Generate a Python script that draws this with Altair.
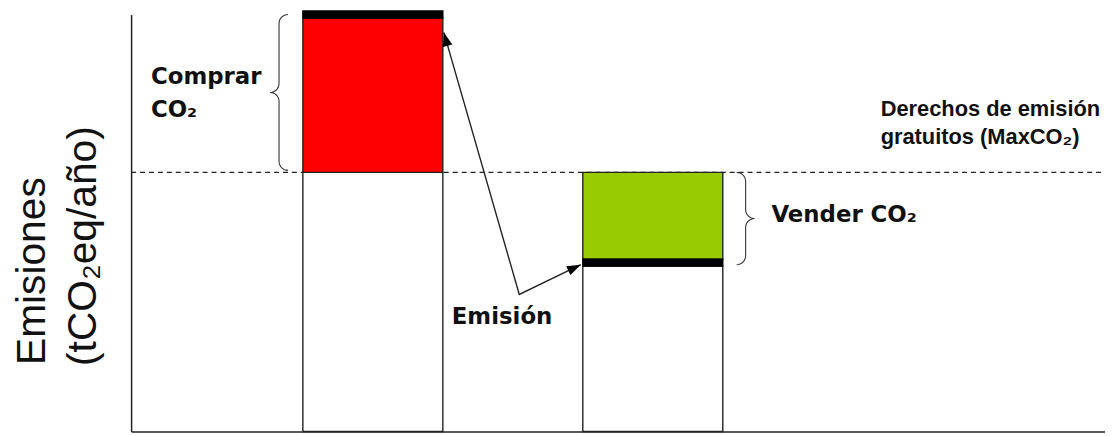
import math
import numpy as np
import pandas as pd
import altair as alt

# ---- schematic units (one unit = one pixel of the plot area) ----
X_MAX = 981
Y_MAX = 420

bar_names = ["Comprar", "Vender"]
bar_left = [173, 455]
bar_right = [314, 596]
emission = [420, 170]          # actual emission level of each installation
band = 7                       # thickness of the emission marker
max_co2 = 261                  # free allowance (MaxCO2)
excess_colors = ["#FF0000", "#99CC00"]

# braces: spine x, lower and upper limits, half width, side (+1 tips right, -1 tips left)
brace_x = [149, 619]
brace_lo = [263, 168]
brace_hi = [420, 261]
brace_w = [9, 9]
brace_side = [1, -1]

# arrow polyline (tip at top bar, vertex, tip at lower bar)
arrow_x = [315, 391, 453]
arrow_y = [402, 138, 168]

# text labels
ann_text = ["Comprar", "CO\u2082", "Emisi\u00f3n", "Vender CO\u2082"]
ann_x = [20, 20, 323, 645]
ann_y = [350, 317, 108, 211]

ref_text = ["Derechos de emisi\u00f3n", "gratuitos (MaxCO\u2082)"]
ref_x = [755, 755]
ref_y = [318, 290]

ytitle_text = ["Emisiones", "(tCO\u2082eq/a\u00f1o)"]
ytitle_x = [-87, -35]
ytitle_y = [67, 66]

# ---- build tables ----
rect_rows = []
for i in range(len(bar_names)):
    e = emission[i]
    lo_e, hi_e = e - band / 2, e + band / 2
    rect_rows.append(dict(x=bar_left[i], x2=bar_right[i], y=0, y2=min(max_co2, lo_e),
                          fill="#FFFFFF", stroke="#222222"))
    if e > max_co2:
        rect_rows.append(dict(x=bar_left[i], x2=bar_right[i], y=max_co2, y2=lo_e,
                              fill=excess_colors[i], stroke="#222222"))
    else:
        rect_rows.append(dict(x=bar_left[i], x2=bar_right[i], y=hi_e, y2=max_co2,
                              fill=excess_colors[i], stroke="#222222"))
    rect_rows.append(dict(x=bar_left[i], x2=bar_right[i], y=lo_e, y2=hi_e,
                          fill="#000000", stroke="#000000"))
rects = pd.DataFrame(rect_rows)


def brace_points(x, lo, hi, w, s):
    r = w
    mid = (lo + hi) / 2
    pts = []
    n = 8
    for t in np.linspace(90, 180, n):
        a = math.radians(t)
        pts.append((w + r * math.cos(a), hi - r + r * math.sin(a)))
    for t in np.linspace(0, -90, n):
        a = math.radians(t)
        pts.append((-w + r * math.cos(a), mid + r + r * math.sin(a)))
    for t in np.linspace(90, 0, n):
        a = math.radians(t)
        pts.append((-w + r * math.cos(a), mid - r + r * math.sin(a)))
    for t in np.linspace(180, 270, n):
        a = math.radians(t)
        pts.append((w + r * math.cos(a), lo + r + r * math.sin(a)))
    return [(x + s * dx, y) for dx, y in pts]


brace_rows = []
for b in range(len(brace_x)):
    for k, (px, py) in enumerate(brace_points(brace_x[b], brace_lo[b], brace_hi[b],
                                              brace_w[b], brace_side[b])):
        brace_rows.append(dict(id=b, k=k, x=px, y=py))
braces = pd.DataFrame(brace_rows)

arrow = pd.DataFrame(dict(k=list(range(3)), x=arrow_x, y=arrow_y))

head_len = 14
heads = []
for tip, base in [(0, 1), (2, 1)]:
    dx = arrow_x[tip] - arrow_x[base]
    dy = arrow_y[tip] - arrow_y[base]
    L = math.hypot(dx, dy)
    ang = math.degrees(math.atan2(dx, dy)) % 360
    heads.append(dict(x=arrow_x[tip] - dx / L * head_len / 2,
                      y=arrow_y[tip] - dy / L * head_len / 2, angle=ang))
heads = pd.DataFrame(heads)

ann = pd.DataFrame(dict(text=ann_text, x=ann_x, y=ann_y))
refl = pd.DataFrame(dict(text=ref_text, x=ref_x, y=ref_y))
ytl = pd.DataFrame(dict(text=ytitle_text, x=ytitle_x, y=ytitle_y))
maxline = pd.DataFrame(dict(y=[max_co2], x=[0], x2=[X_MAX]))

# ---- encodings ----
xs = alt.Scale(domain=[0, X_MAX], nice=False, zero=False)
ys = alt.Scale(domain=[0, Y_MAX], nice=False, zero=False)
ax = alt.Axis(ticks=False, labels=False, grid=False, title="", domainColor="#222222",
              domainWidth=1.5)


def X(f="x"):
    return alt.X(f"{f}:Q", scale=xs, axis=ax)


def Y(f="y"):
    return alt.Y(f"{f}:Q", scale=ys, axis=ax)


rule = alt.Chart(maxline).mark_rule(color="#222222", strokeWidth=1.3, strokeDash=[5, 4]).encode(
    x=X(), x2="x2:Q", y=Y())

bars = alt.Chart(rects).mark_rect(strokeWidth=1.4).encode(
    x=X(), x2="x2:Q", y=Y(), y2="y2:Q",
    fill=alt.Fill("fill:N", scale=None),
    stroke=alt.Stroke("stroke:N", scale=None))

brace_layer = alt.Chart(braces).mark_line(color="#333333", strokeWidth=1.1).encode(
    x=X(), y=Y(), detail="id:N", order="k:Q")

arrow_layer = alt.Chart(arrow).mark_line(color="#222222", strokeWidth=1.4).encode(
    x=X(), y=Y(), order="k:Q")

head_layer = alt.Chart(heads).mark_point(
    shape="M0,-1L-0.7,1L0.7,1Z", filled=True, color="#000000", size=head_len ** 2, opacity=1
).encode(x=X(), y=Y(), angle=alt.Angle("angle:Q", scale=None))

ann_layer = alt.Chart(ann).mark_text(
    font="DejaVu Sans", fontWeight="bold", fontSize=23, align="left", baseline="alphabetic",
    color="#111111").encode(x=X(), y=Y(), text="text:N")

ref_layer = alt.Chart(refl).mark_text(
    font="Liberation Sans", fontWeight="bold", fontSize=22, align="left", baseline="alphabetic",
    color="#111111").encode(x=X(), y=Y(), text="text:N")

yt_layer = alt.Chart(ytl).mark_text(
    font="Liberation Sans", fontSize=41, align="left", baseline="alphabetic", angle=270,
    color="#111111").encode(x=X(), y=Y(), text="text:N")

chart = alt.layer(rule, bars, brace_layer, arrow_layer, head_layer, ann_layer, ref_layer,
                  yt_layer).properties(
    width=X_MAX, height=Y_MAX,
    autosize=alt.AutoSizeParams(type="none"),
    padding={"left": 124, "top": 5, "right": 0, "bottom": 3},
    background="#FFFFFF",
).configure_view(stroke=None)

chart.save("out.html", embed_options={"renderer": "svg", "actions": False})
